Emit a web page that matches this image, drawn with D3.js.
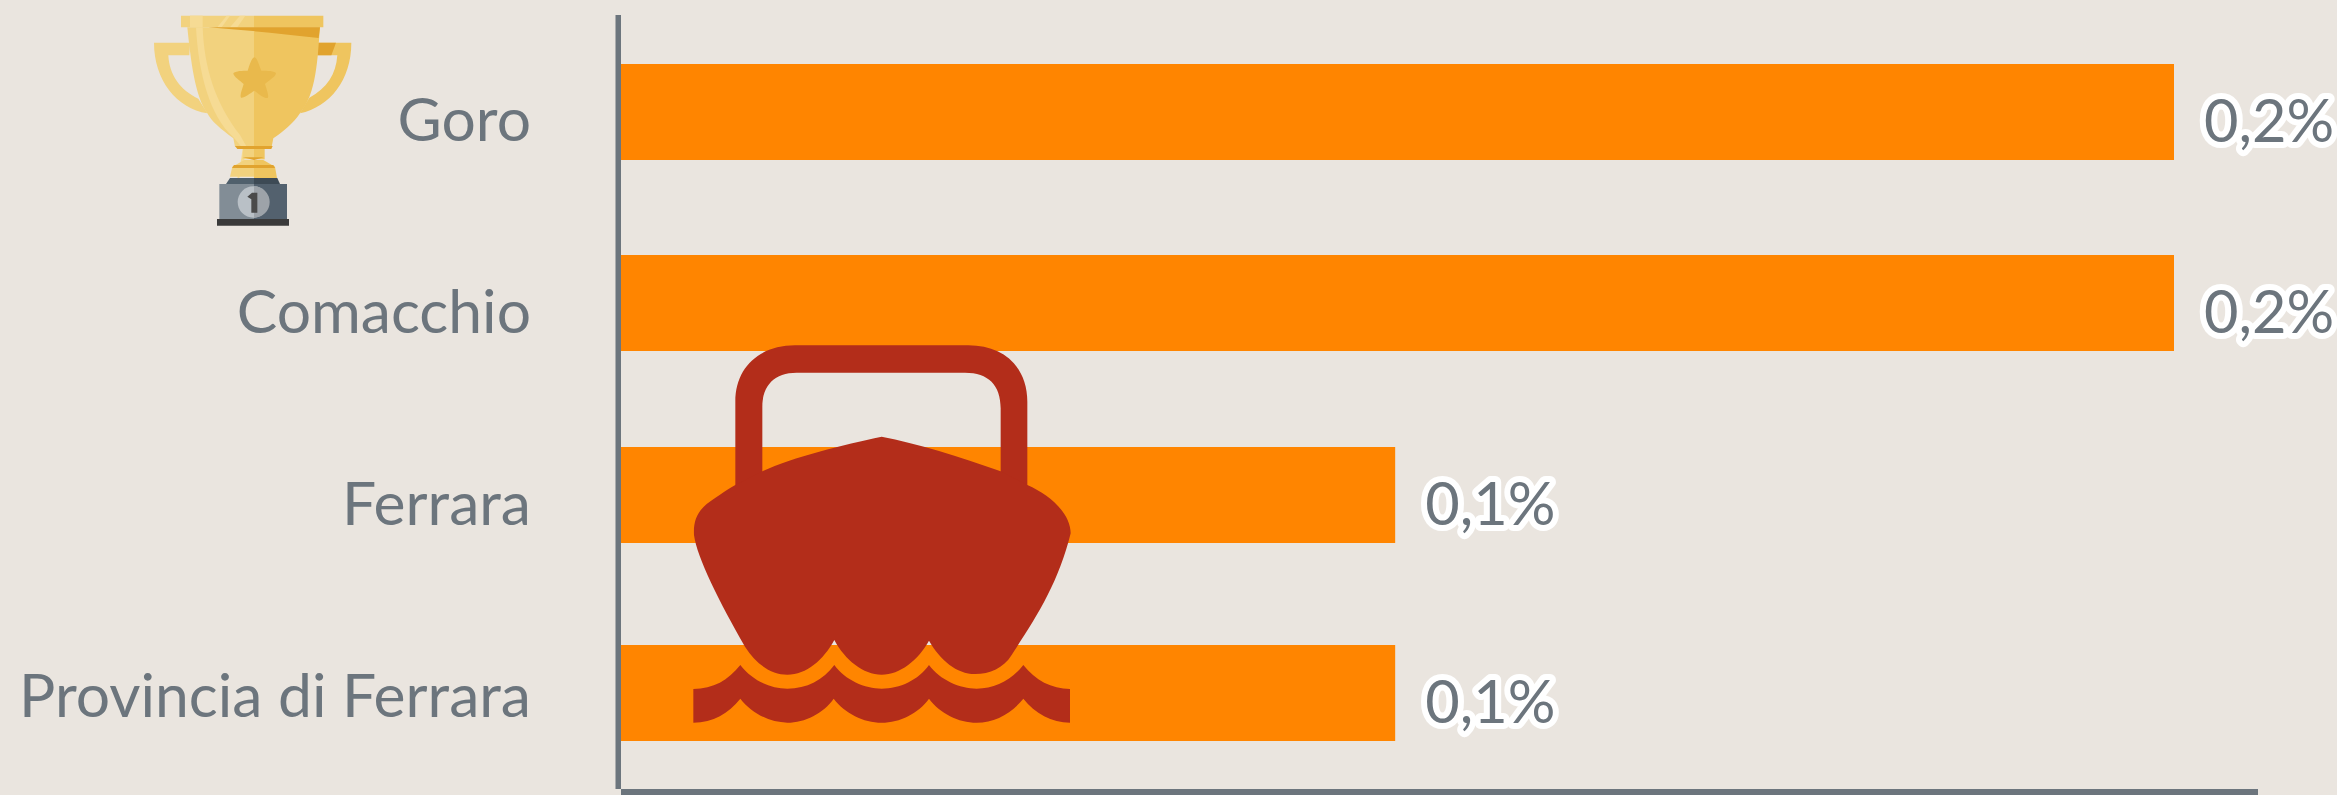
<!DOCTYPE html>
<html><head><meta charset="utf-8">
<script src="https://cdn.jsdelivr.net/npm/d3@7"></script>
<style>html,body{margin:0;padding:0;background:#eae5df;overflow:hidden}svg{display:block}</style>
</head><body><div id="c"></div>
<script>
const categories = ["Goro","Comacchio","Ferrara","Provincia di Ferrara"];
const values = [0.2,0.2,0.0997,0.0997];
const valueLabels = ["0,2%","0,2%","0,1%","0,1%"];

const W=2337,H=795,ink="#6c757d";
const svg=d3.select("#c").append("svg").attr("width",W).attr("height",H);
svg.append("rect").attr("width",W).attr("height",H).attr("fill","#eae5df");
const x=d3.scaleLinear().domain([0,0.2]).range([621,2174]);
const y=d3.scaleOrdinal().domain(categories).range([64,255,447,645]);
const labelY=d3.scaleOrdinal().domain(categories).range([141,333,525,717]);
const barH=96;

svg.selectAll("rect.bar").data(categories).join("rect").attr("class","bar")
  .attr("x",x(0)).attr("y",d=>y(d)).attr("height",barH)
  .attr("width",(d,i)=>x(values[i])-x(0)).attr("fill","#ff8500");

svg.append("rect").attr("x",615.5).attr("y",15).attr("width",5.5).attr("height",774).attr("fill",ink);
svg.append("rect").attr("x",621).attr("y",789).attr("width",1637).attr("height",6).attr("fill",ink);

const font="Lato, sans-serif";
svg.selectAll("text.cat").data(categories).join("text").attr("class","cat")
  .attr("x",531).attr("y",d=>labelY(d))
  .attr("text-anchor","end").attr("font-family",font).attr("font-size",60.6)
  .attr("fill",ink).text(d=>d);

svg.selectAll("text.val").data(categories).join("text").attr("class","val")
  .attr("x",(d,i)=>x(values[i])+30).attr("y",d=>y(d)+barH/2+30)
  .attr("font-family",font).attr("font-size",59.5).attr("fill",ink)
  .attr("stroke","#fff").attr("stroke-width",12).attr("stroke-linejoin","round")
  .attr("paint-order","stroke").text((d,i)=>valueLabels[i]);

// boat icon
const boat=svg.append("g").attr("transform","translate(660,330) scale(0.33333)").attr("fill","#b32d1a");
boat.append("path").attr("fill-rule","evenodd").attr("d","M226,470V215C226,110 300,46 405,46H925C1030,46 1102,110 1102,215V470H1022V235C1022,165 985,128 915,128H410C345,128 307,165 307,230V470Z");
boat.append("path").attr("d","M665,320C550,345 400,380 307,424L226,465C190,485 165,505 140,522C110,548 100,575 102,615C110,680 180,820 255,950C290,1005 335,1034 382,1034C440,1034 490,990 523,930C555,990 610,1034 665,1034C720,1034 775,990 807,932C840,990 890,1032 945,1032C990,1032 1030,1015 1055,975C1130,860 1195,760 1232,610C1232,550 1170,495 1102,465L1022,424C900,380 770,340 665,320Z");
boat.append("path").attr("d","M100,1077C160,1077 205,1050 241,1005C275,1050 330,1076 382,1076C440,1076 490,1050 523,1005C555,1050 615,1076 665,1076C720,1076 775,1050 807,1005C840,1050 900,1076 950,1076C1005,1076 1055,1050 1090,1005C1125,1050 1175,1077 1230,1077V1178C1175,1178 1125,1150 1090,1106C1055,1150 1005,1178 950,1178C895,1178 840,1150 807,1106C775,1150 720,1178 665,1178C610,1178 555,1150 521,1106C490,1150 435,1178 382,1178C330,1178 275,1150 241,1106C205,1150 160,1178 100,1178Z");

// trophy icon
const t=svg.append("g").attr("transform","translate(130,0) scale(0.33333)");
const p=(d,f)=>t.append("path").attr("d",d).attr("fill",f);
const gL="#f2d27e",gR="#efc55f",gD="#e1a32e",gH="#f6db94";
p("M72,128H180L178,166H115C118,225 150,270 205,296L232,340C140,325 72,240 72,128Z",gL);
p("M664,128H560L562,166H622C618,225 590,265 538,293L510,340C600,320 664,240 664,128Z",gR);
p("M564,128H618L604,166H562Z",gD);
p("M172,82H372V440H315L310,415C270,385 245,365 232,340C195,290 182,180 172,82Z",gL);
p("M372,82H570C562,180 560,280 510,340C490,370 460,395 430,415L425,440H372Z",gR);
p("M198,82H218C222,200 255,310 330,405L350,440L345,470L328,535H322L333,480L338,445L310,412C240,350 205,220 198,82Z",gH);
p("M153,47H372V82H153Z",gL);
p("M372,47H580V82H372Z",gR);
p("M180,47H218V82H180Z",gH);
p("M262,82L290,47H300L275,82ZM300,82L330,47H346L322,82Z",gH);
p("M235,82H570L566,114C450,100 340,90 235,82Z",gD);
p("M373,172C382,172 388,200 394,212C410,212 436,212 438,220C436,232 415,242 405,252C410,268 418,290 413,294C400,295 385,280 373,272C360,280 342,295 333,293C328,285 338,265 341,252C330,242 310,230 310,220C315,212 340,212 353,212C358,198 365,172 373,172Z","#e9b94c");
p("M340,445H372V478H337Z",gL);p("M372,445H404V478H372Z",gR);
p("M315,438H428L424,447H322Z",gD);
p("M338,472H402L372,480Z",gD);
p("M343,480H372V530H300L307,500Z",gL);p("M372,480H400L435,500L441,534H372Z",gR);
p("M312,495H430L435,504H306Z",gD);
p("M300,534H372V552H288Z","#50606c");p("M372,534H442L450,552H372Z","#3d4a55");
p("M268,552H372V657H268Z","#828d96");p("M372,552H471V657H372Z","#53616e");
t.append("circle").attr("cx",370).attr("cy",606).attr("r",47).attr("fill","#b9c0c6");
p("M372,559A47,47 0 0 1 372,653Z","#9da3a9");
p("M352,590L366,578H382V638H364V598Z","#4a4a4a");
p("M261,657H477V677H261Z","#3a3a3a");
</script></body></html>
